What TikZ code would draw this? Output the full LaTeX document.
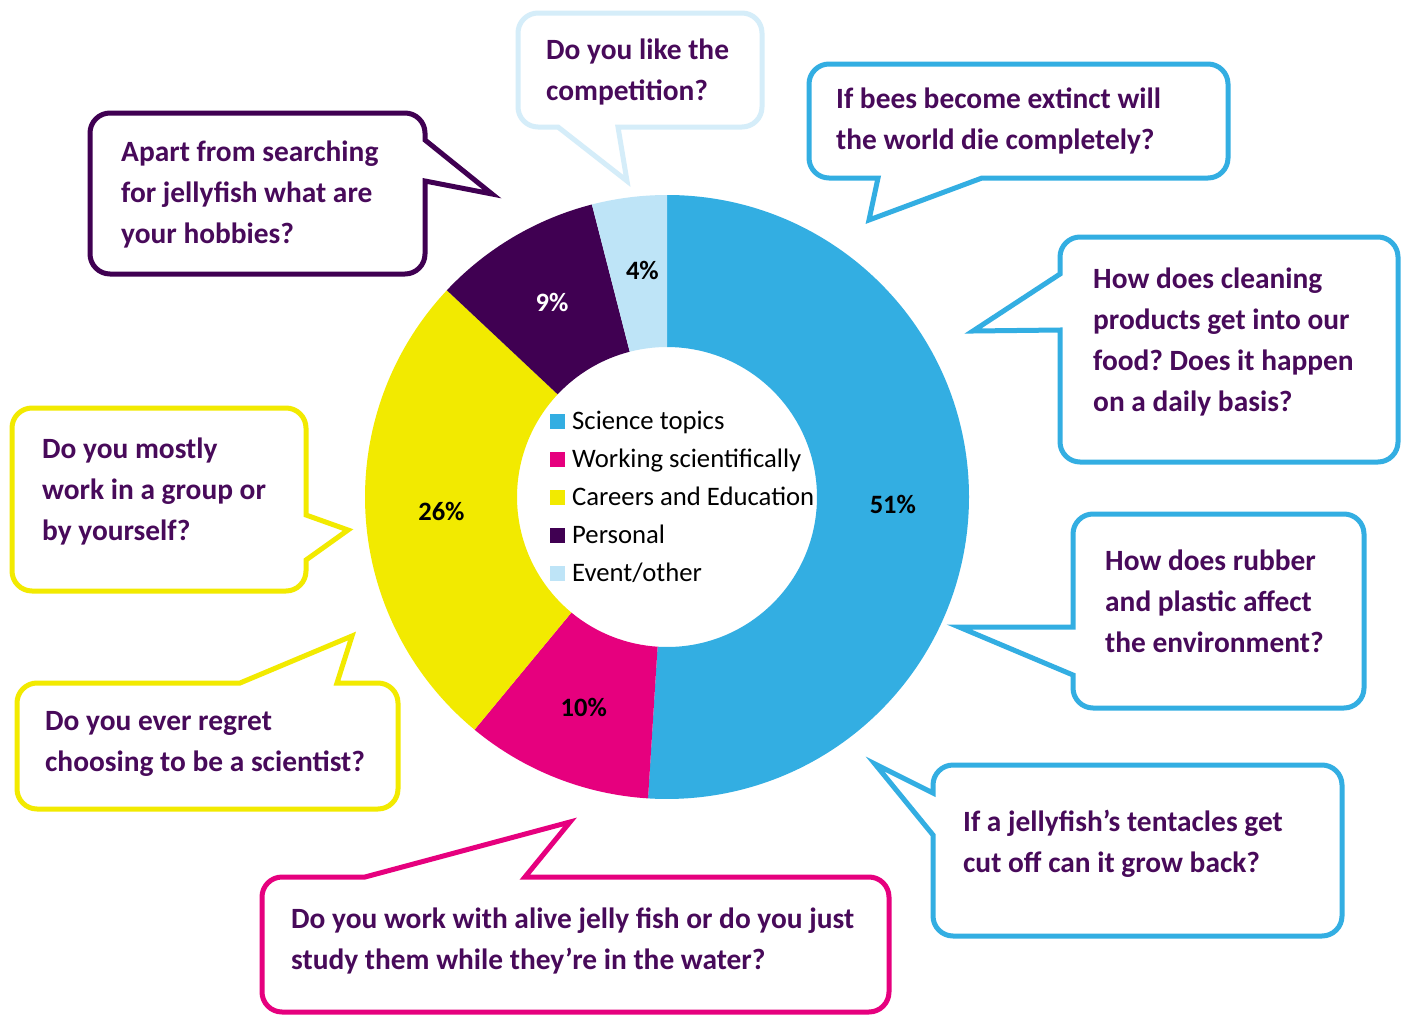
\documentclass[tikz,border=0pt]{standalone}
\usepackage{fontspec}
\setmainfont{Carlito}
\frenchspacing
\definecolor{cblue}{RGB}{51,174,226}
\definecolor{cpink}{RGB}{230,0,126}
\definecolor{cyellow}{RGB}{242,234,0}
\definecolor{cpurple}{RGB}{64,0,82}
\definecolor{clight}{RGB}{190,228,247}
\definecolor{clightline}{RGB}{213,237,249}
\definecolor{ctext}{RGB}{72,10,90}
% rounded corner at (#1,#2), incoming direction (#3,#4), outgoing direction (#5,#6)
\newcommand\rcorner[6]{-- ({#1-20*(#3)},{#2-20*(#4)}) .. controls ({#1-9*(#3)},{#2-9*(#4)}) and ({#1+9*(#5)},{#2+9*(#6)}) .. ({#1+20*(#5)},{#2+20*(#6)})}
\begin{document}
\begin{tikzpicture}[x=1pt,y=-1pt,
  bubble/.style={line width=5pt, fill=white, line join=miter, miter limit=10},
  qtext/.style={anchor=north west, yshift=27.7pt, inner sep=0pt, align=left, text=ctext, font=\bfseries\fontsize{29.4}{41}\selectfont},
  pct/.style={font=\bfseries\fontsize{26.5}{30}\selectfont, text=black, inner sep=0pt},
  legtext/.style={anchor=base west, inner sep=0pt, text=black, font=\fontsize{26.7}{30}\selectfont},
  legbox/.style={minimum size=15pt, inner sep=0pt, draw=none}]
\useasboundingbox (0,0) rectangle (1406,1017);
\fill[white] (0,0) rectangle (1406,1017);

% donut
\begin{scope}[shift={(667,497)}]
  \fill[cblue] (-90:302) arc[start angle=-90, end angle=93.6, radius=302] -- (93.6:150) arc[start angle=93.6, end angle=-90, radius=150] -- cycle;
  \fill[cpink] (93.6:302) arc[start angle=93.6, end angle=129.6, radius=302] -- (129.6:150) arc[start angle=129.6, end angle=93.6, radius=150] -- cycle;
  \fill[cyellow] (129.6:302) arc[start angle=129.6, end angle=223.2, radius=302] -- (223.2:150) arc[start angle=223.2, end angle=129.6, radius=150] -- cycle;
  \fill[cpurple] (223.2:302) arc[start angle=223.2, end angle=255.6, radius=302] -- (255.6:150) arc[start angle=255.6, end angle=223.2, radius=150] -- cycle;
  \fill[clight] (255.6:302) arc[start angle=255.6, end angle=270, radius=302] -- (270:150) arc[start angle=270, end angle=255.6, radius=150] -- cycle;
  \node[pct] (p51) at (1.8:226) {51\%};
  \node[pct] (p10) at (111.6:226) {10\%};
  \node[pct] (p26) at (176.4:226) {26\%};
  \node[pct, text=white] (p9) at (239.4:226) {9\%};
  \node[pct] (p4) at (263.8:228) {4\%};
\end{scope}

% legend
\node[legbox, fill=cblue] (l1) at (557.5,421) {};
\node[legtext] (t1) at (572,429) {Science topics};
\node[legbox, fill=cpink] (l2) at (557.5,459) {};
\node[legtext] (t2) at (572,467) {Working scientifically};
\node[legbox, fill=cyellow] (l3) at (557.5,497) {};
\node[legtext] (t3) at (572,505) {Careers and Education};
\node[legbox, fill=cpurple] (l4) at (557.5,535) {};
\node[legtext] (t4) at (572,543) {Personal};
\node[legbox, fill=clight] (l5) at (557.5,573) {};
\node[legtext] (t5) at (572,581) {Event/other};

% callouts
\draw[bubble, draw=cpurple] (492,194) -- (425,181)
  \rcorner{425}{274}{0}{1}{-1}{0} \rcorner{90}{274}{-1}{0}{0}{-1}
  \rcorner{90}{113}{0}{-1}{1}{0} \rcorner{425}{113}{1}{0}{0}{1}
  -- (425,140) -- cycle;
\node[qtext] (q1) at (121,160) {\strut Apart from searching\\\strut for jellyfish what are\\\strut your hobbies?};

\draw[bubble, draw=clightline] (627,181) -- (618,127)
  \rcorner{762}{127}{1}{0}{0}{-1} \rcorner{762}{13}{0}{-1}{-1}{0}
  \rcorner{518}{13}{-1}{0}{0}{1} \rcorner{518}{127}{0}{1}{1}{0}
  -- (558,127) -- cycle;
\node[qtext] (q2) at (546,58) {\strut Do you like the\\\strut competition?};

\draw[bubble, draw=cblue] (869,220) -- (982,178)
  \rcorner{1228}{178}{1}{0}{0}{-1} \rcorner{1228}{64}{0}{-1}{-1}{0}
  \rcorner{809}{64}{-1}{0}{0}{1} \rcorner{809}{178}{0}{1}{1}{0}
  -- (878,178) -- cycle;
\node[qtext] (q3) at (836,107) {\strut If bees become extinct will\\\strut the world die completely?};

\draw[bubble, draw=cblue] (973,331) -- (1060,330)
  \rcorner{1060}{462}{0}{1}{1}{0} \rcorner{1398}{462}{1}{0}{0}{-1}
  \rcorner{1398}{237}{0}{-1}{-1}{0} \rcorner{1060}{237}{-1}{0}{0}{1}
  -- (1060,274) -- cycle;
\node[qtext] (q4) at (1093,287) {\strut How does cleaning\\\strut products get into our\\\strut food? Does it happen\\\strut on a daily basis?};

\draw[bubble, draw=cyellow] (348,530) -- (306,560)
  \rcorner{306}{591}{0}{1}{-1}{0} \rcorner{12}{591}{-1}{0}{0}{-1}
  \rcorner{12}{408}{0}{-1}{1}{0} \rcorner{306}{408}{1}{0}{0}{1}
  -- (306,515) -- cycle;
\node[qtext] (q5) at (42,457) {\strut Do you mostly\\\strut work in a group or\\\strut by yourself?};

\draw[bubble, draw=cblue] (959,627) -- (1073,675)
  \rcorner{1073}{708}{0}{1}{1}{0} \rcorner{1364}{708}{1}{0}{0}{-1}
  \rcorner{1364}{514}{0}{-1}{-1}{0} \rcorner{1073}{514}{-1}{0}{0}{1}
  -- (1073,627) -- cycle;
\node[qtext] (q6) at (1105,569) {\strut How does rubber\\\strut and plastic affect\\\strut the environment?};

\draw[bubble, draw=cyellow] (352,636) -- (337,683)
  \rcorner{398}{683}{1}{0}{0}{1} \rcorner{398}{809}{0}{1}{-1}{0}
  \rcorner{17}{809}{-1}{0}{0}{-1} \rcorner{17}{683}{0}{-1}{1}{0}
  -- (240,683) -- cycle;
\node[qtext] (q7) at (45,729) {\strut Do you ever regret\\\strut choosing to be a scientist?};

\draw[bubble, draw=cblue] (875,764) -- (933,835)
  \rcorner{933}{936}{0}{1}{1}{0} \rcorner{1342}{936}{1}{0}{0}{-1}
  \rcorner{1342}{765}{0}{-1}{-1}{0} \rcorner{933}{765}{-1}{0}{0}{1}
  -- (933,793) -- cycle;
\node[qtext] (q8) at (963,830) {\strut If a jellyfish’s tentacles get\\\strut cut off can it grow back?};

\draw[bubble, draw=cpink] (570,822) -- (525,877)
  \rcorner{889}{877}{1}{0}{0}{1} \rcorner{889}{1012}{0}{1}{-1}{0}
  \rcorner{262}{1012}{-1}{0}{0}{-1} \rcorner{262}{877}{0}{-1}{1}{0}
  -- (365,877) -- cycle;
\node[qtext] (q9) at (291,927) {\strut Do you work with alive jelly fish or do you just\\\strut study them while they’re in the water?};
\end{tikzpicture}
\end{document}
